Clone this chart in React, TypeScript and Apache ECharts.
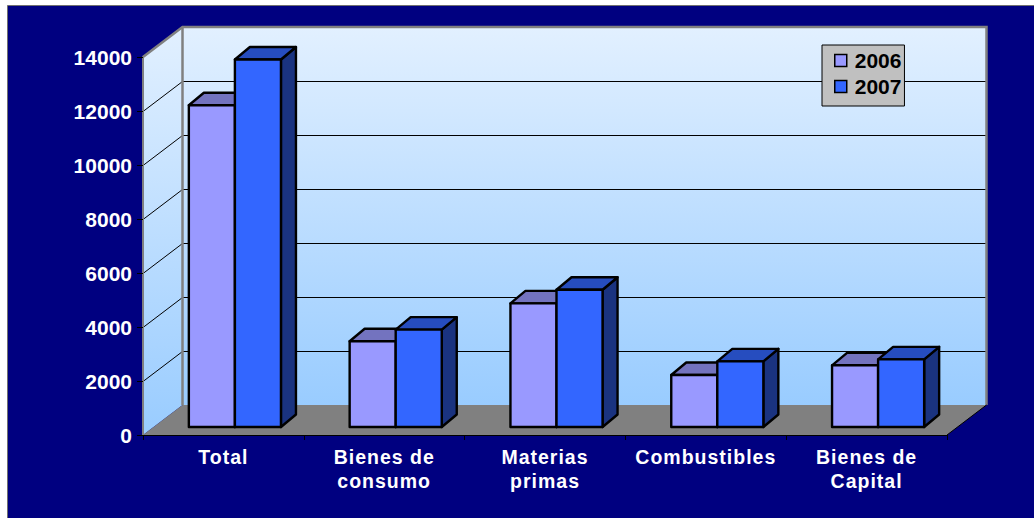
import React, { useEffect, useRef } from "react";
import * as echarts from "echarts";

const categories = ["Total", "Bienes de\nconsumo", "Materias\nprimas", "Combustibles", "Bienes de\nCapital"];
const values2006 = [11915, 3175, 4580, 1925, 2285];
const values2007 = [13610, 3605, 5085, 2430, 2505];
const gridValues = [2000, 4000, 6000, 8000, 10000, 12000];
const FONT = "'Liberation Sans', Arial, sans-serif";

// 3D projection of the chart box, in px
const DEPTH_X = 39.5;
const DEPTH_Y = 30;
const BAR_SHIFT_X = 11.5;
const BAR_SHIFT_Y = 8;
const SIDE_X = 15;
const SIDE_Y = 12.5;
const BAR_RATIO = 0.2864;

const bar3d = (offsetSign: number, front: string, top: string, side: string) => (_params: any, api: any) => {
  const i = api.value(0);
  const p = api.coord([i, api.value(1)]);
  const b = api.coord([i, 0]);
  const w = api.size([1, 0])[0] * BAR_RATIO;
  const mid = p[0] + BAR_SHIFT_X;
  const x0 = offsetSign < 0 ? mid - w : mid;
  const x1 = x0 + w;
  const y0 = p[1] - BAR_SHIFT_Y;
  const y1 = b[1] - BAR_SHIFT_Y;
  const stroke = { stroke: "#000", lineWidth: 2.4, lineJoin: "round" };
  return {
    type: "group",
    children: [
      { type: "polygon", shape: { points: [[x1, y0], [x1 + SIDE_X, y0 - SIDE_Y], [x1 + SIDE_X, y1 - SIDE_Y], [x1, y1]] }, style: { fill: side, ...stroke } },
      { type: "polygon", shape: { points: [[x0, y0], [x0 + SIDE_X, y0 - SIDE_Y], [x1 + SIDE_X, y0 - SIDE_Y], [x1, y0]] }, style: { fill: top, ...stroke } },
      { type: "rect", shape: { x: x0, y: y0, width: w, height: y1 - y0 }, style: { fill: front, ...stroke } },
    ],
  };
};

const walls = (params: any, api: any) => {
  const c = params.coordSys;
  const xL = c.x;
  const xR = c.x + c.width;
  const yT = c.y;
  const yB = c.y + c.height;
  const grad = () =>
    new echarts.graphic.LinearGradient(0, 0, 0, 1, [
      { offset: 0, color: "#e2f0ff" },
      { offset: 1, color: "#99ccff" },
    ]);
  const gray = { stroke: "#808080", lineWidth: 2.5 };
  const children: any[] = [
    { type: "rect", shape: { x: xL + DEPTH_X, y: yT - DEPTH_Y, width: c.width, height: c.height }, style: { fill: grad() } },
    { type: "polygon", shape: { points: [[xL, yT], [xL + DEPTH_X, yT - DEPTH_Y], [xL + DEPTH_X, yB - DEPTH_Y], [xL, yB]] }, style: { fill: grad() } },
    { type: "polygon", shape: { points: [[xL, yB], [xL + DEPTH_X, yB - DEPTH_Y], [xR + DEPTH_X, yB - DEPTH_Y], [xR, yB]] }, style: { fill: "#808080" } },
  ];
  gridValues.forEach((v) => {
    const y = Math.round(api.coord([0, v])[1]);
    children.push({ type: "polyline", shape: { points: [[xL, y + 0.5], [xL + DEPTH_X, y - DEPTH_Y + 0.5], [xR + DEPTH_X, y - DEPTH_Y + 0.5]] }, style: { fill: "none", stroke: "#000", lineWidth: 1 } });
  });
  children.push(
    { type: "polyline", shape: { points: [[xL, yT], [xL + DEPTH_X, yT - DEPTH_Y], [xR + DEPTH_X, yT - DEPTH_Y], [xR + DEPTH_X, yB - DEPTH_Y]] }, style: { fill: "none", ...gray } },
    { type: "line", shape: { x1: xL + DEPTH_X, y1: yT - DEPTH_Y, x2: xL + DEPTH_X, y2: yB - DEPTH_Y }, style: gray },
    { type: "line", shape: { x1: xR, y1: yB, x2: xR + DEPTH_X, y2: yB - DEPTH_Y }, style: { stroke: "#000", lineWidth: 1 } }
  );
  return { type: "group", children };
};

export default function App() {
  const ref = useRef<HTMLDivElement>(null);
  useEffect(() => {
    const chart = echarts.init(ref.current!, undefined, { renderer: "svg" });
    chart.setOption({
      animation: false,
      backgroundColor: "#ffffff",
      graphic: [
        { type: "rect", silent: true, z: -10, shape: { x: 7.5, y: 5.5, width: 1040, height: 530 }, style: { fill: "#000080", stroke: "#707070", lineWidth: 1 } },
      ],
      grid: { left: 143, right: 87, top: 57, bottom: 83, containLabel: false },
      xAxis: {
        type: "category",
        data: categories,
        z: 5,
        axisLine: { lineStyle: { color: "#000", width: 1 } },
        axisTick: { show: true, alignWithLabel: false, length: 5, lineStyle: { color: "#000" } },
        axisLabel: { color: "#fff", fontFamily: FONT, fontWeight: "bold", fontSize: 19.5, lineHeight: 24, margin: 10, interval: 0 },
      },
      yAxis: {
        type: "value",
        min: 0,
        max: 14000,
        interval: 2000,
        z: 5,
        splitLine: { show: false },
        axisLine: { show: true, lineStyle: { color: "#808080", width: 2 } },
        axisTick: { show: true, length: 6, lineStyle: { color: "#000" } },
        axisLabel: { color: "#fff", fontFamily: FONT, fontWeight: "bold", fontSize: 21, margin: 11, padding: [0, 0, 4, 0], formatter: (v: number) => String(v) },
      },
      legend: {
        data: ["2006", "2007"],
        orient: "vertical",
        left: 822,
        top: 45,
        width: 84,
        padding: [2, 3, 6, 12],
        backgroundColor: "#c0c0c0",
        borderColor: "#000",
        borderWidth: 1,
        itemWidth: 12,
        itemHeight: 12,
        itemGap: -1,
        icon: "rect",
        selectedMode: false,
        itemStyle: { borderColor: "#000", borderWidth: 1.5 },
        textStyle: { color: "#000", fontFamily: FONT, fontWeight: "bold", fontSize: 21, lineHeight: 24, padding: [0, 0, 3, 3] },
      },
      series: [
        { type: "custom", name: "walls", z: 1, silent: true, data: [[0, 0]], renderItem: walls },
        { type: "custom", name: "2006", z: 2, itemStyle: { color: "#9999ff" }, encode: { x: 0, y: 1 }, data: values2006.map((v, i) => [i, v]), renderItem: bar3d(-1, "#9999ff", "#7373bf", "#39397f") },
        { type: "custom", name: "2007", z: 3, itemStyle: { color: "#3366ff" }, encode: { x: 0, y: 1 }, data: values2007.map((v, i) => [i, v]), renderItem: bar3d(1, "#3366ff", "#264dbf", "#1a3380") },
      ],
    });
    const labelLines = new Set(categories.flatMap((c) => c.split("\n")));
    ref.current!.querySelectorAll("text, tspan").forEach((t) => {
      if (labelLines.has((t.textContent || "").trim())) (t as SVGElement).style.letterSpacing = "1px";
    });
    return () => chart.dispose();
  }, []);
  return <div ref={ref} style={{ position: "fixed", left: 0, top: 0, width: 1034, height: 518 }} />;
}
